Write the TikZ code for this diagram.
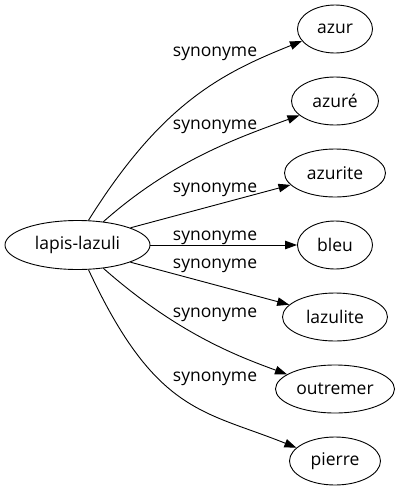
\documentclass[tikz,border=0pt]{standalone}
\usepackage{fontspec}
\setmainfont{Open Sans}
\usetikzlibrary{arrows.meta,shapes.geometric}
\begin{document}
\begin{tikzpicture}[x=1pt,y=-1pt,
  every node/.style={font=\fontsize{17.5}{21}\selectfont},
  ell/.style={draw, ellipse, line width=0.9pt, inner sep=0pt, minimum height=48pt},
  lbl/.style={inner sep=0pt, anchor=base},
  syn/.style={line width=0.9pt, -{Triangle[length=12pt,width=8.5pt]}}
]
\useasboundingbox (0,0) rectangle (402,491);
\node[ell, minimum width=145pt, minimum height=49pt] (L) at (77.5,245) {lapis-lazuli};
\node[ell, minimum width=75pt]  (azur)     at (335,29)  {azur};
\node[ell, minimum width=87pt]  (azure)    at (335,101) {azuré};
\node[ell, minimum width=101pt] (azurite)  at (335,173) {azurite};
\node[ell, minimum width=75pt]  (bleu)     at (335,245) {bleu};
\node[ell, minimum width=105pt] (lazulite) at (335,317) {lazulite};
\node[ell, minimum width=119pt] (outremer) at (335,389) {outremer};
\node[ell, minimum width=91pt]  (pierre)   at (335,461) {pierre};

\draw[syn] (L.66) .. controls (162.2,102.3) and (222.7,72.8) .. (azur.200);
\draw[syn] (L.42) .. controls (170.9,162) and (234,139) .. (azure.202);
\draw[syn] (L.18) -- (azurite.195);
\draw[syn] (L.east) -- (bleu.west);
\draw[syn] (L.-18) -- (lazulite.165);
\draw[syn] (L.-42) .. controls (178.5,334.6) and (240,357) .. (outremer.163);
\draw[syn] (L.-66) .. controls (155.6,414) and (204,410.5) .. (pierre.161);

\node[lbl] (s1) at (215,56)  {synonyme};
\node[lbl] (s2) at (215,129) {synonyme};
\node[lbl] (s3) at (215,192) {synonyme};
\node[lbl] (s4) at (215,240) {synonyme};
\node[lbl] (s5) at (215,268) {synonyme};
\node[lbl] (s6) at (215,317) {synonyme};
\node[lbl] (s7) at (215,381) {synonyme};
\end{tikzpicture}
\end{document}
